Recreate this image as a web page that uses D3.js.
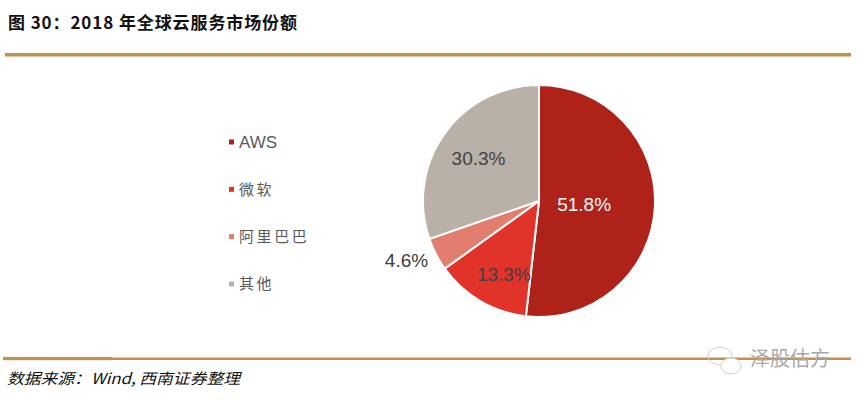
<!DOCTYPE html>
<html>
<head>
<meta charset="utf-8">
<script src="https://cdn.jsdelivr.net/npm/d3@7"></script>
<style>
  body { margin: 0; background: #fff; }
  svg { display: block; }
</style>
</head>
<body>
<div class="chart"></div>
<script>
var w = 860;
var h = 400;

var categories = ["AWS", "微软", "阿里巴巴", "其他"];
var shares = [51.8, 13.3, 4.6, 30.3];
var labels = ["51.8%", "13.3%", "4.6%", "30.3%"];
var colors = ["#AE2219", "#E2332B", "#E27D6F", "#B9B1A8"];

var svg = d3.select(".chart")
    .append("svg")
    .attr("width", w)
    .attr("height", h);

// title and rules
svg.append("text")
    .attr("x", 8)
    .attr("y", 29)
    .attr("font-family", "Noto Sans CJK SC")
    .attr("font-weight", "bold")
    .attr("font-size", 17)
    .attr("fill", "#111")
    .attr("textLength", 289)
    .attr("lengthAdjust", "spacing")
    .text("图 30：2018 年全球云服务市场份额");

svg.append("rect")
    .attr("x", 5).attr("y", 53)
    .attr("width", 846).attr("height", 3.5)
    .attr("fill", "#C0914F");

svg.append("rect")
    .attr("x", 3).attr("y", 357.5)
    .attr("width", 848).attr("height", 2.5)
    .attr("fill", "#C0914F");
svg.append("rect")
    .attr("x", 3).attr("y", 357)
    .attr("width", 109).attr("height", 3.2)
    .attr("fill", "#C0914F");

svg.append("text")
    .attr("x", 7)
    .attr("y", 384)
    .attr("font-family", "Noto Sans CJK SC")
    .attr("font-style", "italic")
    .attr("font-size", 15)
    .attr("fill", "#111")
    .attr("textLength", 233)
    .attr("lengthAdjust", "spacingAndGlyphs")
    .text("数据来源：Wind, 西南证券整理");

// watermark
var wm = svg.append("g")
    .attr("fill", "none")
    .attr("stroke", "#cfcfcf")
    .attr("stroke-width", 1);
wm.append("ellipse").attr("cx", 720).attr("cy", 356).attr("rx", 12).attr("ry", 9);
wm.append("ellipse").attr("cx", 731).attr("cy", 366).attr("rx", 10).attr("ry", 8)
    .attr("fill", "#fff");
svg.append("text")
    .attr("x", 750)
    .attr("y", 366)
    .attr("font-family", "Noto Sans CJK SC")
    .attr("font-size", 20)
    .attr("fill", "#a8a8a8")
    .text("泽股估方");

// pie
var cx = 539, cy = 201, r = 116;

var pie = d3.pie()
    .sort(null)
    .value(function(d) { return d; });

var arc = d3.arc()
    .innerRadius(0)
    .outerRadius(r);

var arcs = pie(shares);

var g = svg.append("g")
    .attr("transform", "translate(" + cx + "," + cy + ")");

g.selectAll("path")
    .data(arcs)
    .enter()
    .append("path")
    .attr("d", arc)
    .attr("fill", function(d, i) { return colors[i]; })
    .attr("stroke", "#fff")
    .attr("stroke-width", 2);

// label placement: radius as fraction of r, angular nudge in degrees
var labelRadius = [0.39, 0.70, 1.25, 0.64];
var labelNudge = [0.6, -4.8, 3.4, 0];
g.selectAll("text.lbl")
    .data(arcs)
    .enter()
    .append("text")
    .attr("class", "lbl")
    .attr("transform", function(d, i) {
        var a = (d.startAngle + d.endAngle) / 2 + labelNudge[i] * Math.PI / 180;
        var rr = r * labelRadius[i];
        return "translate(" + (Math.sin(a) * rr) + "," + (-Math.cos(a) * rr) + ")";
    })
    .attr("text-anchor", "middle")
    .attr("dy", "0.36em")
    .attr("font-family", "Liberation Sans, Arial")
    .attr("font-size", 19)
    .attr("fill", function(d, i) { return i === 0 ? "#fff" : "#404040"; })
    .text(function(d, i) { return labels[i]; });

// legend
var legendY = d3.scalePoint()
    .domain(categories)
    .range([142, 284]);

var legend = svg.selectAll("g.legend")
    .data(categories)
    .enter()
    .append("g")
    .attr("class", "legend")
    .attr("transform", function(d) { return "translate(229," + legendY(d) + ")"; });

legend.append("rect")
    .attr("x", 0).attr("y", -2.5)
    .attr("width", 5).attr("height", 5)
    .attr("fill", function(d, i) { return colors[i]; });

legend.append("text")
    .attr("x", 10)
    .attr("dy", "0.36em")
    .attr("font-family", "Liberation Sans, Noto Sans CJK SC")
    .attr("font-size", function(d, i) { return i === 0 ? 17 : 15; })
    .attr("letter-spacing", function(d, i) { return i === 0 ? 0 : 2.6; })
    .attr("fill", "#595959")
    .text(function(d) { return d; });
</script>
</body>
</html>
